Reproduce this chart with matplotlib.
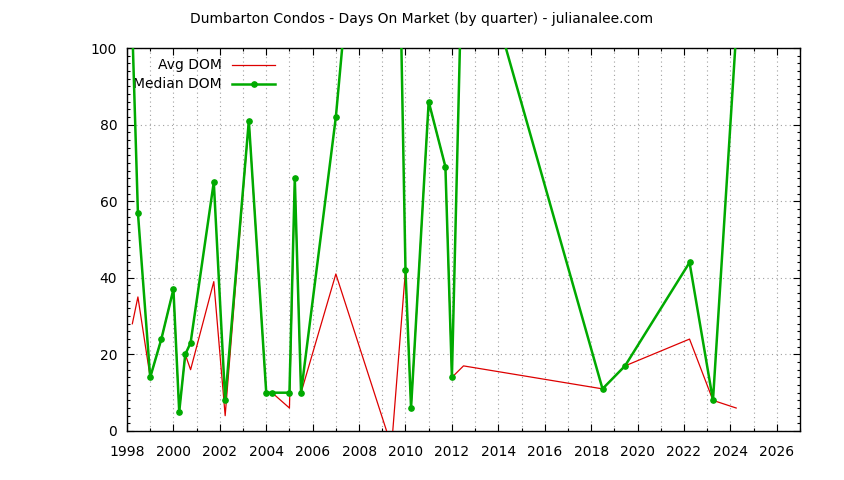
import numpy as np
import matplotlib
matplotlib.use("Agg")
import matplotlib.pyplot as plt
from matplotlib.ticker import MultipleLocator

# quarter dates (decimal years) and days on market
median_dates = [1998.23, 1998.47, 1999.0, 1999.48, 2000.0, 2000.25, 2000.51, 2000.74,
                2001.74, 2002.23, 2003.25, 2004.0, 2004.25, 2005.0, 2005.23, 2005.5,
                2007.0, 2009.4, 2010.0, 2010.24, 2011.0, 2011.72, 2012.0, 2012.5,
                2018.49, 2019.46, 2022.24, 2023.25, 2024.25]
median_dom = [105, 57, 14, 24, 37, 5, 20, 23,
              65, 8, 81, 10, 10, 10, 66, 10,
              82, 241, 42, 6, 86, 69, 14, 139,
              11, 17, 44, 8, 104]

avg_dates = median_dates
avg_dom = [28, 35, 14, 24, 37, 5, 20, 16,
           39, 4, 81, 10, 10, 6, 66, 10,
           41, -4, 42, 6, 86, 69, 14, 17,
           11, 17, 24, 8, 6]

red = "#dd0000"
green = "#00aa00"

plt.rcParams['font.family'] = ['DejaVu Sans']
fig = plt.figure(figsize=(8.44, 4.8), dpi=100)
ax = fig.add_axes([127 / 844, 1 - 431 / 480, 673 / 844, 383 / 480])

ax.plot(avg_dates, avg_dom, color=red, lw=0.9, zorder=3)
ax.plot(median_dates, median_dom, color=green, lw=1.8, marker='o', ms=3.8,
        markerfacecolor=green, markeredgecolor=green, zorder=4)

ax.set_xlim(1998, 2027)
ax.set_ylim(0, 100)
ax.xaxis.set_major_locator(MultipleLocator(2))
ax.xaxis.set_minor_locator(MultipleLocator(1))
ax.yaxis.set_major_locator(MultipleLocator(20))
ax.yaxis.set_minor_locator(MultipleLocator(2))
ax.set_xticks(np.arange(1998, 2027, 2))

ax.tick_params(which='both', direction='in', top=True, right=True, labelsize=10, color='black')
ax.tick_params(which='major', length=5, width=0.8)
ax.tick_params(which='minor', length=2.5, width=0.8)
ax.tick_params(axis='x', which='major', pad=10)
ax.tick_params(axis='y', which='major', pad=7)

ax.grid(which='major', axis='y', color='#a0a0a0', linestyle=(0, (1, 3)), lw=0.8)
ax.grid(which='both', axis='x', color='#a0a0a0', linestyle=(0, (1, 3)), lw=0.8)
for s in ax.spines.values():
    s.set_linewidth(1.0)

# gnuplot-style key: right-justified labels with sample to the right
tr = ax.transAxes
ax.text(0.141, 0.955, "Avg DOM", transform=tr, ha='right', va='center', fontsize=10)
ax.text(0.141, 0.905, "Median DOM", transform=tr, ha='right', va='center', fontsize=10)
ax.plot([0.156, 0.22], [0.955, 0.955], transform=tr, color=red, lw=0.9, clip_on=False)
ax.plot([0.156, 0.22], [0.905, 0.905], transform=tr, color=green, lw=1.8, clip_on=False)
ax.plot([0.188], [0.905], transform=tr, color=green, marker='o', ms=3.8, clip_on=False)

fig.text(0.5, 1 - 19 / 480, "Dumbarton Condos - Days On Market (by quarter) - julianalee.com",
         ha='center', va='center', fontsize=10)

fig.savefig("out.png", dpi=100)
